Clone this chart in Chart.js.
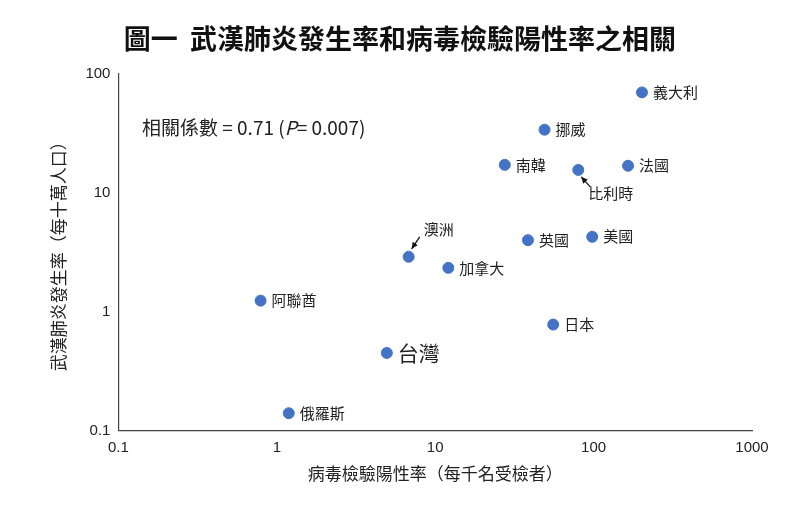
<!DOCTYPE html>
<html><head><meta charset="utf-8">
<script src="https://cdn.jsdelivr.net/npm/chart.js@4"></script>
<style>body{margin:0;background:#fff}#t{position:absolute;left:0;top:18px;width:800px;text-align:center;font:bold 27px "Noto Sans CJK TC";color:#111}</style>
</head><body>
<div id="t">圖一&nbsp; 武漢肺炎發生率和病毒檢驗陽性率之相關</div>
<canvas id="c" width="800" height="508"></canvas>
<script>
const countries = ['義大利','挪威','南韓','比利時','法國','澳洲','加拿大','英國','美國','阿聯酋','日本','台灣','俄羅斯'];
const positiveRate = [202, 49, 27.5, 80, 165, 6.8, 12.1, 38.5, 98, 0.79, 55.6, 4.95, 1.19];
const incidence = [70, 34, 17.2, 15.6, 16.9, 2.9, 2.34, 4.0, 4.27, 1.24, 0.78, 0.45, 0.14];
const xTicks = [0.1, 1, 10, 100, 1000];
const yTicks = [0.1, 1, 10, 100];

const labelPlugin = {
  id: 'labels',
  afterDatasetsDraw(chart) {
    const ctx = chart.ctx, xs = chart.scales.x, ys = chart.scales.y;
    ctx.save();
    ctx.fillStyle = '#222';
    ctx.textBaseline = 'middle';
    countries.forEach((name, i) => {
      const px = xs.getPixelForValue(positiveRate[i]);
      const py = ys.getPixelForValue(incidence[i]);
      ctx.font = name === '台灣' ? '21px "Noto Sans CJK TC"' : '15px "Noto Sans CJK TC"';
      let tx = px + 11, ty = py;
      if (name === '比利時') { tx = px + 10; ty = py + 23; arrow(ctx, px + 12, py + 17, px + 3, py + 7); }
      if (name === '澳洲') { tx = px + 15; ty = py - 27; arrow(ctx, px + 11, py - 20, px + 3, py - 8); }
      ctx.textAlign = 'left';
      ctx.fillText(name, tx, ty);
    });
    ctx.font = '19px "Noto Sans CJK TC"';
    ctx.fillText('相關係數 = 0.71 (', 142, 128);
    let w = ctx.measureText('相關係數 = 0.71 (').width;
    ctx.font = 'italic 19px "Noto Sans CJK TC"';
    ctx.fillText('P', 142 + w, 128);
    w += ctx.measureText('P').width;
    ctx.font = '19px "Noto Sans CJK TC"';
    ctx.fillText('= 0.007)', 142 + w, 128);
    ctx.restore();
  }
};
function arrow(ctx, x1, y1, x2, y2) {
  ctx.strokeStyle = '#111'; ctx.fillStyle = '#111'; ctx.lineWidth = 1.3;
  ctx.beginPath(); ctx.moveTo(x1, y1); ctx.lineTo(x2, y2); ctx.stroke();
  const a = Math.atan2(y2 - y1, x2 - x1);
  ctx.beginPath(); ctx.moveTo(x2, y2);
  ctx.lineTo(x2 - 7 * Math.cos(a - 0.45), y2 - 7 * Math.sin(a - 0.45));
  ctx.lineTo(x2 - 7 * Math.cos(a + 0.45), y2 - 7 * Math.sin(a + 0.45));
  ctx.fill();
  ctx.fillStyle = '#222';
}

new Chart(document.getElementById('c'), {
  type: 'scatter',
  data: { datasets: [{
    data: positiveRate.map((x, i) => ({ x: x, y: incidence[i] })),
    backgroundColor: '#4472c4', borderColor: '#4472c4', pointRadius: 5.5
  }] },
  options: {
    responsive: false, animation: false,
    layout: { padding: { top: 74, right: 48, left: 44, bottom: 20 } },
    plugins: { legend: { display: false }, tooltip: { enabled: false } },
    scales: {
      x: {
        type: 'logarithmic', min: 0.1, max: 1000,
        afterBuildTicks: s => { s.ticks = xTicks.map(v => ({ value: v })); },
        ticks: { callback: v => String(v), color: '#222', font: { size: 15, family: 'Liberation Sans' } },
        grid: { display: false, drawTicks: true, tickLength: 5, tickColor: '#444' },
        border: { color: '#444', width: 1.2 },
        title: { display: true, text: '病毒檢驗陽性率（每千名受檢者）', color: '#222', font: { size: 17, family: 'Noto Sans CJK TC' } }
      },
      y: {
        type: 'logarithmic', min: 0.1, max: 100,
        afterBuildTicks: s => { s.ticks = yTicks.map(v => ({ value: v })); },
        ticks: { callback: v => String(v), color: '#222', font: { size: 15, family: 'Liberation Sans' } },
        grid: { display: false, drawTicks: true, tickLength: 5, tickColor: '#444' },
        border: { color: '#444', width: 1.2 },
        title: { display: true, text: '武漢肺炎發生率（每十萬人口）', color: '#222', padding: { top: 4, bottom: 14 }, font: { size: 17, family: 'Noto Sans CJK TC' } }
      }
    }
  },
  plugins: [labelPlugin]
});
</script>
</body></html>
